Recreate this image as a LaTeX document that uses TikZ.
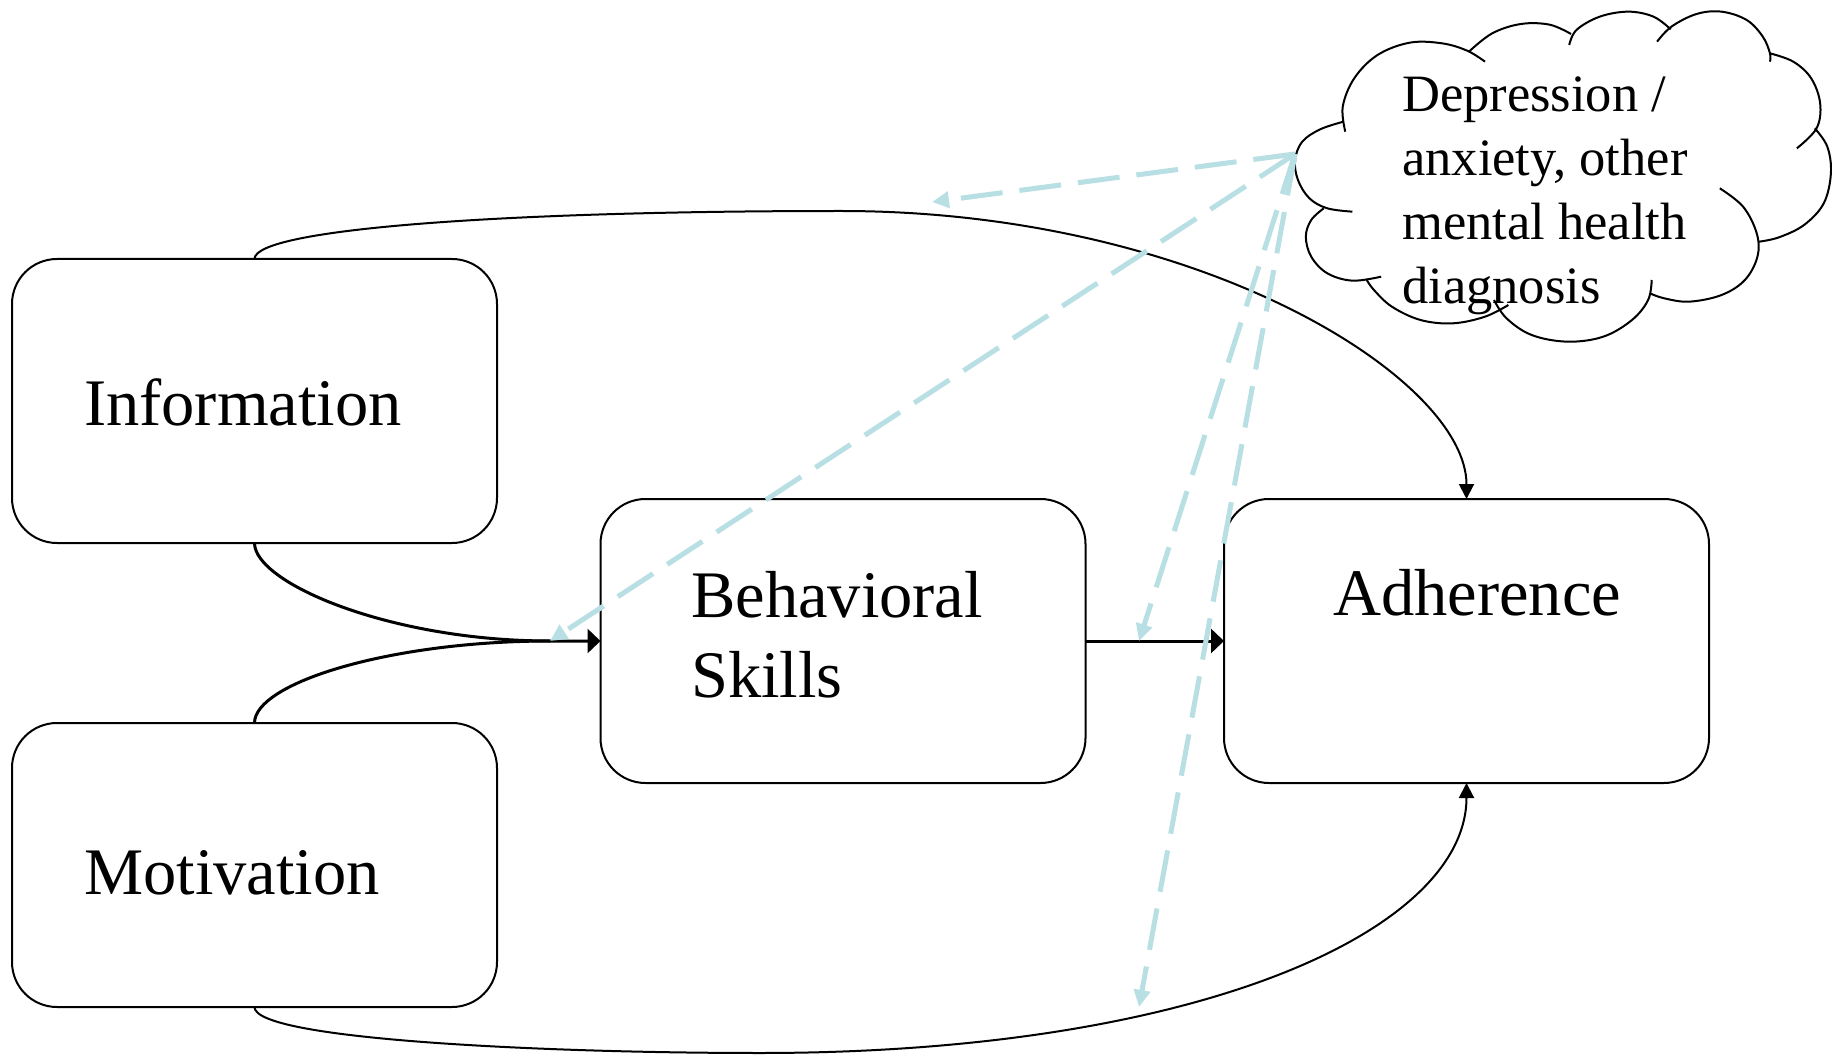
\documentclass[tikz,border=0pt]{standalone}
\usepackage{fontspec}
\setmainfont{Liberation Serif}
\usetikzlibrary{arrows.meta}
\definecolor{dashblue}{RGB}{184,223,227}
\tikzset{
  box/.style={draw, line width=2pt, rounded corners=45pt, minimum width=485pt, minimum height=284pt, inner sep=0pt, outer sep=0pt},
  lbl/.style={anchor=base west, inner sep=0pt, font=\fontsize{66.5}{80}\selectfont},
  cloudlbl/.style={anchor=base west, inner sep=0pt, font=\fontsize{52.5}{64}\selectfont},
  thickarr/.style={line width=3pt, -{Triangle[length=13pt,width=24pt]}},
  thickline/.style={line width=3pt},
  thinarr/.style={line width=2pt, -{Triangle[length=15pt,width=15pt]}},
  dasharr/.style={dashblue, line width=5pt, dash pattern=on 42pt off 17pt, -{Triangle[length=17pt,width=16pt]}},
  cloudline/.style={line width=2pt, smooth, tension=0.6},
}
\begin{document}
\begin{tikzpicture}[x=1pt,y=-1pt]
\useasboundingbox (0,0) rectangle (1832,1056);
\fill[white] (0,0) rectangle (1832,1056);

% boxes
\node[box] (info) at (254.5,401) {};
\node[box] (motiv) at (254.5,865) {};
\node[box] (bs) at (843,641) {};
\node[box] (adh) at (1466.5,641) {};

% labels
\node[lbl] (infot) at (84,426) {Information};
\node[lbl] (motivt) at (84,894) {Motivation};
\node[lbl] (bst) at (691,617) {\begin{tabular}[t]{@{}l@{}}Behavioral\\Skills\end{tabular}};
\node[lbl] (adht) at (1333,615) {Adherence};

% cloud outline
\begin{scope}[shift={(1270,0)}, x=0.3584pt, y=-0.33333pt]
\draw[cloudline] plot coordinates {(210,395) (203,320) (235,235) (300,165) (390,128) (480,130) (550,152) (600,185)};
\draw[cloudline] plot coordinates {(555,155) (620,100) (700,72) (780,74) (840,102)};
\draw[cloudline] plot coordinates {(835,135) (855,90) (920,50) (1000,35) (1070,50) (1118,88)};
\draw[cloudline] plot coordinates {(1080,125) (1120,80) (1190,42) (1260,35) (1330,60) (1375,110) (1395,160) (1395,185)};
\draw[cloudline] plot coordinates {(1395,160) (1460,185) (1510,235) (1535,310) (1525,385) (1470,445)};
\draw[cloudline] plot coordinates {(1520,385) (1555,440) (1565,520) (1545,610) (1490,675) (1420,712) (1365,725)};
\draw[cloudline] plot coordinates {(1255,565) (1320,620) (1358,700) (1360,770) (1325,840) (1260,885) (1170,905) (1100,895) (1060,880)};
\draw[cloudline] plot coordinates {(1065,840) (1055,900) (1010,960) (930,1010) (830,1025) (730,1005) (660,955) (625,900)};
\draw[cloudline] plot coordinates {(665,915) (600,950) (510,970) (420,960) (340,920) (290,870) (270,840)};
\draw[cloudline] plot coordinates {(310,830) (230,842) (160,820) (115,770) (100,710) (115,660) (150,625)};
\draw[cloudline] plot coordinates {(230,635) (160,625) (110,595) (78,540) (70,480) (90,425) (140,388) (205,365)};
\end{scope}
\node[cloudlbl] (cloudt) at (1402,112) {\begin{tabular}[t]{@{}l@{}}Depression /\\anxiety, other\\mental health\\diagnosis\end{tabular}};

% helper coordinates
\coordinate (cloud) at (1295,154);
\coordinate (jn) at (550,641);
\coordinate (topc) at (841,211);
\coordinate (botc) at (760,1053);
\coordinate (d1) at (932,202);
\coordinate (d3) at (1139,641);
\coordinate (d4) at (1139,1007);

% solid connectors
\draw[thickline] (info.south) .. controls +(0,40) and +(-160,0) .. (jn);
\draw[thickarr] (motiv.north) .. controls +(0,-40) and +(-160,0) .. (jn) -- (bs.west);
\draw[thickarr] (bs.east) -- (adh.west);
\draw[thinarr] (info.north) .. controls +(0,-30) and +(-340,0) .. (topc) .. controls +(360,0) and +(0,-120) .. (adh.north);
\draw[thinarr] (motiv.south) .. controls +(0,33) and +(-210,0) .. (botc) .. controls +(440,0) and +(0,147) .. (adh.south);

% dashed connectors
\draw[dasharr] (cloud) -- (d1);
\draw[dasharr] (cloud) -- (jn);
\draw[dasharr] (cloud) -- (d3);
\draw[dasharr] (cloud) -- (d4);
\end{tikzpicture}
\end{document}
